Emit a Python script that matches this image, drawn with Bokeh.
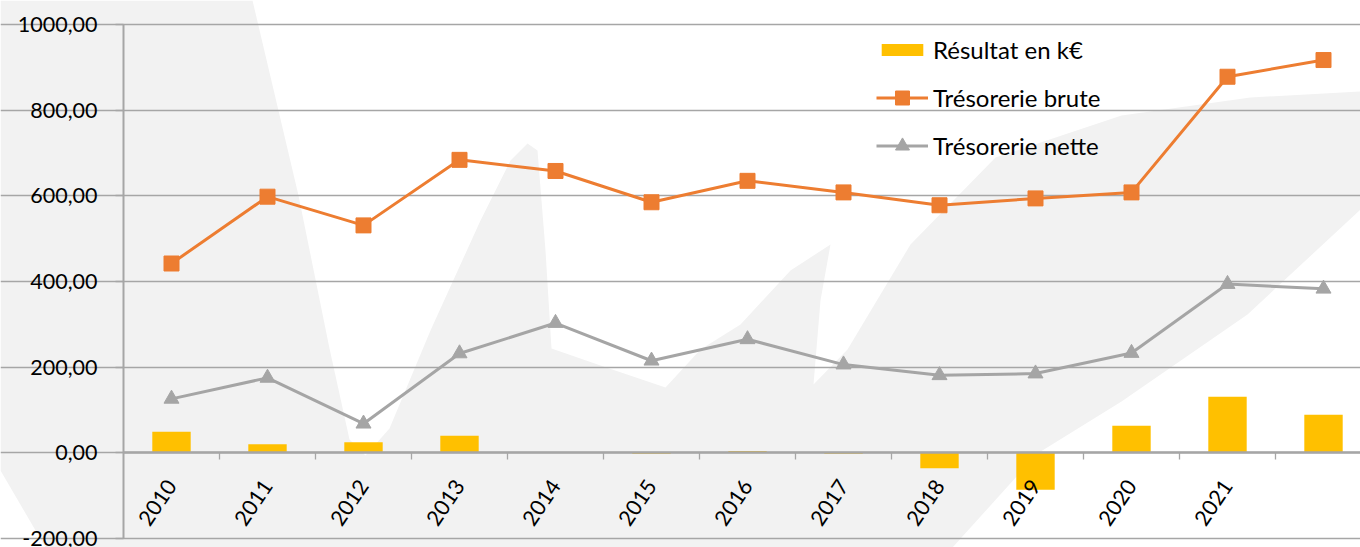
from bokeh.plotting import figure
from bokeh.models import FixedTicker, Legend, LegendItem, PolyAnnotation, Range1d
from bokeh.embed import file_html
from bokeh.resources import INLINE
import math

# ---- data ----
years = ["2010", "2011", "2012", "2013", "2014", "2015", "2016",
         "2017", "2018", "2019", "2020", "2021", ""]
resultat = [49, 20, 25, 40, 0.5, -2, 4, -2, -36, -86, 63, 131, 89]
brute = [442, 598, 531, 684, 658, 585, 635, 608, 578, 594, 608, 878, 917]
nette = [126, 175, 68, 232, 303, 215, 265, 206, 181, 185, 233, 394, 383]
y_ticks = [-200, 0, 200, 400, 600, 800, 1000]

xpos = list(range(len(years)))
boundaries = [i + 0.5 for i in xpos]

FONT = "Lato"
GRID = "#a6a6a6"
W, H = 1360, 547

# the plotting frame fills the whole canvas; axes sit at fixed data positions
p = figure(width=W, height=H, output_backend="svg", toolbar_location=None,
           x_range=Range1d(-1.78125, 12.3854), y_range=Range1d(-221.0, 1056.0),
           min_border=0, min_border_left=0, min_border_right=0,
           min_border_top=0, min_border_bottom=0)
p.outline_line_color = None
p.background_fill_color = "white"
p.border_fill_color = "white"

# decorative faint watermark behind the chart (pixels from top-left)
wm_px = [0, 252, 298, 329, 349, 365, 389, 430, 480, 510, 527, 537, 545, 551,
         600, 665, 700, 740, 790, 830, 820, 813, 847, 910, 995, 1121, 1250, 1360,
         1360, 1247, 1121, 1037, 952, 45, 0]
wm_py = [0, 0, 195, 348, 439, 455, 428, 330, 220, 160, 143, 150, 250, 348,
         365, 387, 349, 324, 270, 244, 300, 384, 349, 244, 157, 115, 97, 91,
         209, 314, 401, 453, 547, 547, 470]
p.add_layout(PolyAnnotation(xs=wm_px, ys=[H - v for v in wm_py],
                            xs_units="screen", ys_units="screen",
                            fill_color="#f2f2f2", fill_alpha=1.0, line_color=None,
                            level="image"))

# grid
p.xgrid.visible = False
p.ygrid.grid_line_color = GRID
p.ygrid.grid_line_width = 1.3
p.ygrid.bounds = (-0.5, 12.3854)

# y axis
p.yaxis.fixed_location = -0.5
p.yaxis.bounds = (-200, 1000)
p.yaxis.ticker = FixedTicker(ticks=y_ticks)
p.yaxis.major_label_overrides = {v: f"{v},00" for v in y_ticks}
p.yaxis.axis_line_color = GRID
p.yaxis.axis_line_width = 2
p.yaxis.major_tick_line_color = GRID
p.yaxis.major_tick_line_width = 1.3
p.yaxis.major_tick_out = 8
p.yaxis.major_tick_in = 0
p.yaxis.minor_tick_line_color = None
p.yaxis.major_label_standoff = 18
p.yaxis.major_label_text_font = FONT
p.yaxis.major_label_text_font_size = "21.5px"
p.yaxis.major_label_text_color = "black"

# x axis at zero
p.xaxis.fixed_location = 0
p.xaxis.bounds = (-0.5, 12.3854)
p.xaxis.ticker = FixedTicker(ticks=xpos, minor_ticks=boundaries)
p.xaxis.major_label_overrides = {i: y for i, y in zip(xpos, years)}
p.xaxis.axis_line_color = GRID
p.xaxis.axis_line_width = 2.5
p.xaxis.major_tick_line_color = None
p.xaxis.minor_tick_line_color = GRID
p.xaxis.minor_tick_line_width = 1.3
p.xaxis.minor_tick_out = 7
p.xaxis.minor_tick_in = 0
p.xaxis.major_label_orientation = math.radians(56)
p.xaxis.major_label_standoff = 22
p.xaxis.major_label_text_font = FONT
p.xaxis.major_label_text_font_size = "21.5px"
p.xaxis.major_label_text_color = "black"

# series
bars = p.vbar(x=xpos, top=resultat, bottom=0, width=0.4,
              fill_color="#FFC000", line_color=None)
l1 = p.line(xpos, brute, line_color="#ED7D31", line_width=3)
m1 = p.scatter(xpos, brute, marker="square", size=15,
               fill_color="#ED7D31", line_color="#ED7D31")
l2 = p.line(xpos, nette, line_color="#A5A5A5", line_width=3)
m2 = p.scatter(xpos, nette, marker="triangle", size=15,
               fill_color="#A5A5A5", line_color="#A5A5A5")


def style_legend(lg, glyph_h, label_h):
    lg.background_fill_alpha = 0
    lg.border_line_color = None
    lg.padding = 0
    lg.margin = 0
    lg.spacing = 13
    lg.glyph_width = 52
    lg.glyph_height = glyph_h
    lg.label_height = label_h
    lg.label_standoff = 5
    lg.label_text_font = FONT
    lg.label_text_font_size = "24px"
    lg.label_text_color = "black"
    lg.label_text_baseline = "middle"


legend_bar = Legend(items=[LegendItem(label="Résultat en k€", renderers=[bars])],
                    location=(876, 480))
style_legend(legend_bar, 15, 35)
p.add_layout(legend_bar)

legend_lines = Legend(items=[
    LegendItem(label="Trésorerie brute", renderers=[l1, m1]),
    LegendItem(label="Trésorerie nette", renderers=[l2, m2]),
], location=(876, 384))
style_legend(legend_lines, 35, 24)
p.add_layout(legend_lines)

open("out.html", "w").write(file_html(p, INLINE))
